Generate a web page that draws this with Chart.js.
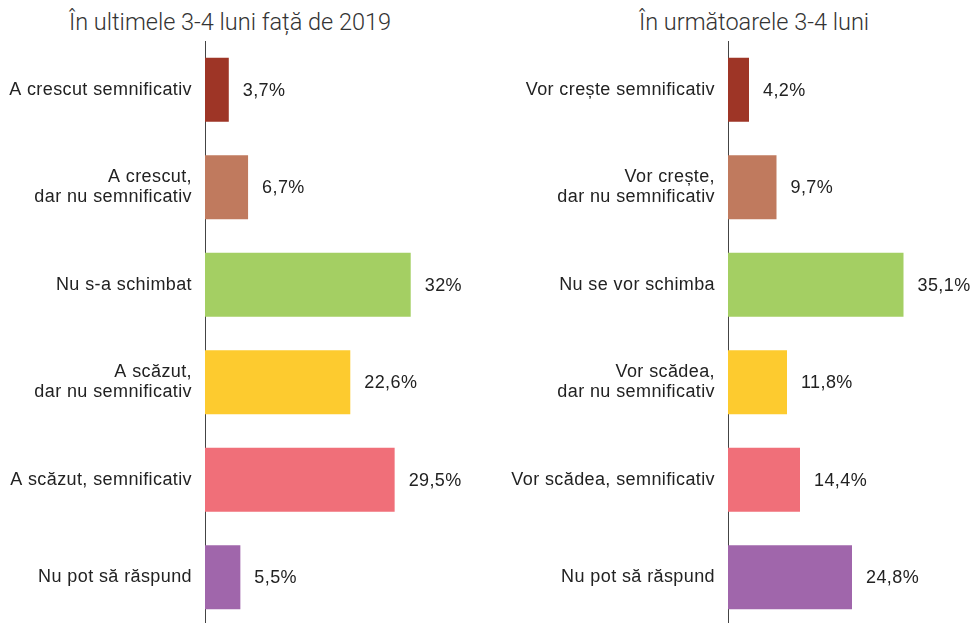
<!DOCTYPE html>
<html>
<head>
<meta charset="utf-8">
<script src="https://cdn.jsdelivr.net/npm/chart.js@4.4.1/dist/chart.umd.min.js"></script>
<style>
  html, body { margin:0; padding:0; width:972px; height:623px; overflow:hidden; background:#fff; }
  .panel { position:absolute; top:0; width:486px; height:640px; }
  .title { position:absolute; top:8px; font-family:"Roboto", "Liberation Sans", sans-serif; font-weight:300; font-size:23.5px; color:#333; white-space:nowrap; transform:translateX(-50%); }
</style>
</head>
<body>
<div class="title" style="left:230px" id="t1"></div>
<div class="title" style="left:754px" id="t2"></div>
<div class="panel" style="left:0"><canvas id="c1" width="486" height="640"></canvas></div>
<div class="panel" style="left:486px"><canvas id="c2" width="486" height="640"></canvas></div>
<script>
const leftTitle = "În ultimele 3-4 luni față de 2019";
const rightTitle = "În următoarele 3-4 luni";
const leftCategories = [
  "A crescut semnificativ",
  ["A crescut,", "dar nu semnificativ"],
  "Nu s-a schimbat",
  ["A scăzut,", "dar nu semnificativ"],
  "A scăzut, semnificativ",
  "Nu pot să răspund"
];
const leftValues = [3.7, 6.7, 32, 22.6, 29.5, 5.5];
const rightCategories = [
  "Vor crește semnificativ",
  ["Vor crește,", "dar nu semnificativ"],
  "Nu se vor schimba",
  ["Vor scădea,", "dar nu semnificativ"],
  "Vor scădea, semnificativ",
  "Nu pot să răspund"
];
const rightValues = [4.2, 9.7, 35.1, 11.8, 14.4, 24.8];
const barColors = ["#9E3526", "#C07A5E", "#A4CF63", "#FDCB2F", "#F06F79", "#A066AB"];

document.getElementById('t1').textContent = leftTitle;
document.getElementById('t2').textContent = rightTitle;

const fmt = v => String(v).replace('.', ',') + '%';

const spacing = {
  id: 'spacing',
  beforeDraw(chart) { chart.ctx.letterSpacing = '0.4px'; }
};

const valueLabels = {
  id: 'valueLabels',
  afterDatasetsDraw(chart) {
    const ctx = chart.ctx;
    const meta = chart.getDatasetMeta(0);
    const data = chart.data.datasets[0].data;
    ctx.save();
    ctx.letterSpacing = '0.4px';
    ctx.font = '18px "Liberation Sans", Arial, sans-serif';
    ctx.fillStyle = '#222';
    ctx.textAlign = 'left';
    ctx.textBaseline = 'middle';
    meta.data.forEach((bar, i) => {
      ctx.fillText(fmt(data[i]), bar.x + 14, bar.y + 1);
    });
    ctx.restore();
  }
};

function makeChart(id, labels, values, yWidth, xMax, padRight) {
  return new Chart(document.getElementById(id), {
    type: 'bar',
    data: {
      labels: labels,
      datasets: [{
        data: values,
        backgroundColor: barColors,
        borderWidth: 0,
        categoryPercentage: 1,
        barPercentage: 0.656
      }]
    },
    options: {
      indexAxis: 'y',
      responsive: false,
      maintainAspectRatio: false,
      animation: false,
      layout: { padding: { top: 41, bottom: 14, left: 0, right: padRight } },
      plugins: { legend: { display: false }, tooltip: { enabled: false }, title: { display: false } },
      scales: {
        x: { display: false, min: 0, max: xMax },
        y: {
          grid: { display: false, drawTicks: false },
          border: { display: true, color: '#444', width: 1 },
          ticks: {
            color: '#222',
            padding: 13,
            font: { family: '"Liberation Sans", Arial, sans-serif', size: 18, lineHeight: 1.1 }
          },
          afterFit(scale) {
            scale.width = yWidth;
            scale.paddingTop = 0;
            scale.paddingBottom = 0;
          }
        }
      }
    },
    plugins: [spacing, valueLabels]
  });
}

makeChart('c1', leftCategories, leftValues, 205, 42, 11);
makeChart('c2', rightCategories, rightValues, 242, 48, 4);
</script>
</body>
</html>
